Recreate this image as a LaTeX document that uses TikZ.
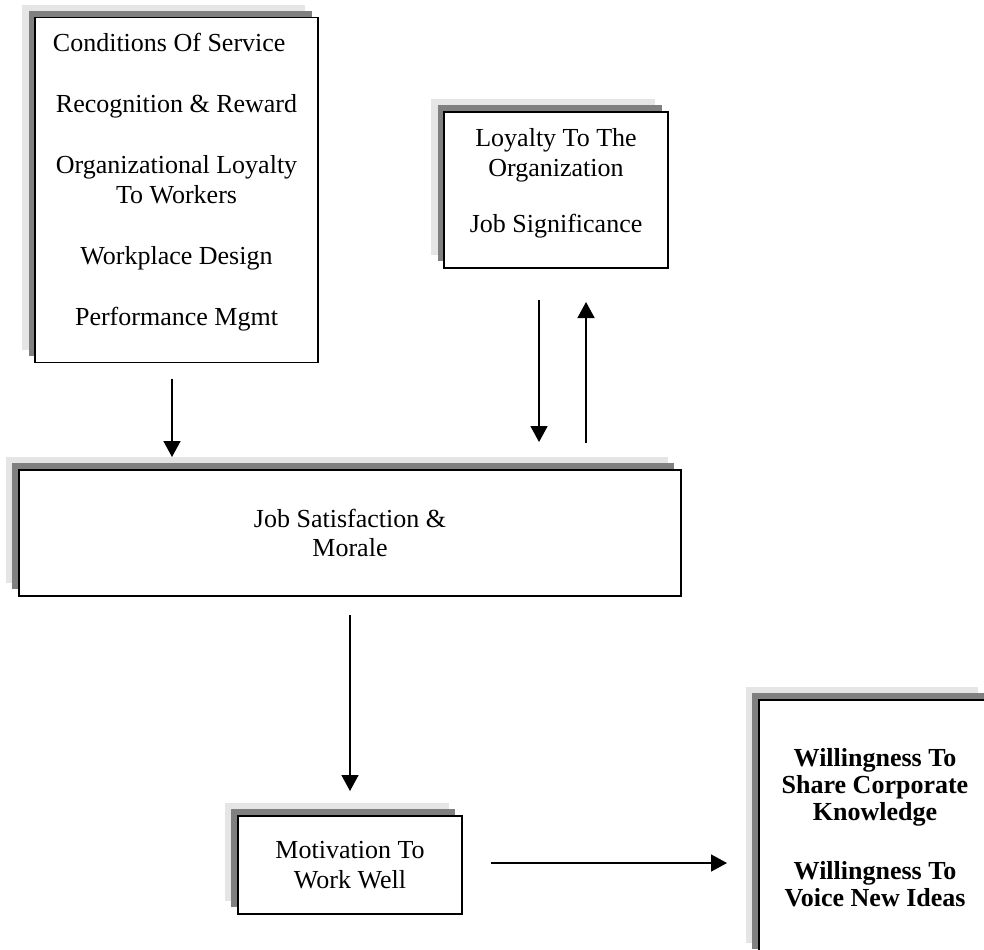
\documentclass[tikz,border=0pt]{standalone}
\usepackage{fontspec}
\setmainfont{Liberation Serif}
\usepackage{tikz}
\usetikzlibrary{positioning, shadows, arrows.meta}

\definecolor{shadowdark}{gray}{0.5}
\definecolor{shadowlight}{gray}{0.9}

\begin{document}
\begin{tikzpicture}[
    every node/.style={font=\fontsize{19.5}{22}\selectfont},
    factor/.style={rectangle, draw=black, line width=1.1pt, fill=white,
                   inner sep=0pt, outer sep=0pt, align=center,
                   general shadow={fill=shadowlight, shadow xshift=-9.75pt, shadow yshift=9.4pt},
                   general shadow={fill=shadowdark, shadow xshift=-4.9pt, shadow yshift=4.9pt}},
    outcome/.style={factor, font=\fontsize{19.5}{20.25}\selectfont\bfseries},
    arrow/.style={line width=1.2pt, -{Triangle[width=12.75pt, length=12pt]}}
]
\path[use as bounding box, clip] (0,0) rectangle (738pt,-711.75pt);

\node[factor, font=\fontsize{19.5}{22.5}\selectfont, minimum width=212.25pt, minimum height=258.75pt] (service) at (132.4pt,-142.5pt)
    {Conditions Of Service\hspace*{11pt}\\[23.25pt]Recognition \& Reward\\[23.25pt]Organizational Loyalty\\To Workers\\[23.25pt]Workplace Design\\[23.25pt]Performance Mgmt\\[-6pt]\mbox{}};
\node[factor, minimum width=168pt, minimum height=117pt, right=94.5pt of service] (loyalty)
    {Loyalty To The\\Organization\\[20pt]Job Significance\\[-7.5pt]\mbox{}};
\node[factor, minimum width=496.5pt, minimum height=94.5pt] (morale) at (262.5pt,-399.75pt)
    {Job Satisfaction \&\\Morale};
\node[factor, minimum width=168pt, minimum height=73.5pt, below=165pt of morale] (motive)
    {Motivation To\\Work Well};
\node[outcome, minimum width=174pt, minimum height=192pt] (share) at (656.25pt,-621pt)
    {Willingness To\\Share Corporate\\Knowledge\\[24pt]Willingness To\\Voice New Ideas};

\draw[arrow, shorten <=12pt, shorten >=9.75pt] ([xshift=-3.4pt]service.south) -- ([xshift=-3.4pt]service.south |- morale.north);
\draw[arrow, shorten <=24pt, shorten >=21pt] ([xshift=-12.75pt]loyalty.south) -- ([xshift=-12.75pt]loyalty.south |- morale.north);
\draw[arrow, shorten <=20.25pt, shorten >=25.5pt] ([xshift=22.5pt]loyalty.south |- morale.north) -- ([xshift=22.5pt]loyalty.south);
\draw[arrow, shorten <=14.25pt, shorten >=18.75pt] (morale) -- (motive);
\draw[arrow, shorten <=21.75pt, shorten >=24pt] ([yshift=1.5pt]motive.east) -- ([yshift=1.5pt]motive.east -| share.west);
\end{tikzpicture}
\end{document}
